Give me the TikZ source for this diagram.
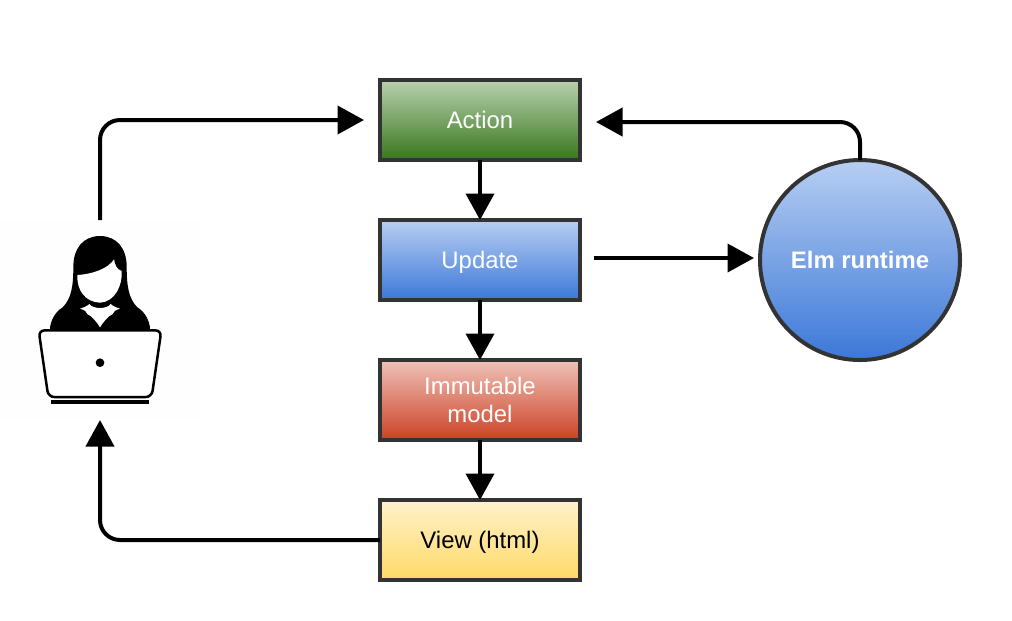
\documentclass[tikz,border=0pt]{standalone}
\usepackage{fontspec}
\setmainfont{Liberation Sans}
\usetikzlibrary{arrows.meta,positioning,calc}
\definecolor{edgegray}{HTML}{333333}
\definecolor{greentop}{HTML}{B9D1AE}
\definecolor{greenbot}{HTML}{38761D}
\definecolor{bluetop}{HTML}{B7CEF2}
\definecolor{bluebot}{HTML}{3C78D8}
\definecolor{redtop}{HTML}{EFC2B9}
\definecolor{redbot}{HTML}{CC4125}
\definecolor{yellowtop}{HTML}{FFF2CC}
\definecolor{yellowbot}{HTML}{FFD966}
\tikzset{
  flowarr/.style={-{Triangle[length=0.53cm,width=0.56cm]}, line width=0.08cm, draw=black, rounded corners=0.4cm},
  flowbox/.style={draw=edgegray, line width=0.08cm, outer sep=0pt, minimum width=4cm, minimum height=1.6cm, align=center, text=white, text depth=0pt},
}

\begin{document}
\begin{tikzpicture}[
  font=\fontsize{13.6}{15.9}\selectfont,
  node distance=1.2cm,
]
  \useasboundingbox (0,0) rectangle (20.24,-12.4);

  \node[flowbox, top color=greentop, bottom color=greenbot] (action) at (9.6,-2.4) {Action};
  \node[flowbox, top color=bluetop, bottom color=bluebot, below=of action] (update) {Update};
  \node[flowbox, top color=redtop, bottom color=redbot, below=of update] (model) {Immutable\\model};
  \node[flowbox, top color=yellowtop, bottom color=yellowbot, text=black, below=of model] (view) {View (html)};
  \node[circle, draw=edgegray, line width=0.08cm, outer sep=0pt, minimum size=4cm, top color=bluetop, bottom color=bluebot, text=white, font=\fontsize{13.6}{15.9}\selectfont\bfseries, right=3.6cm of update] (runtime) {Elm runtime};
  \node[minimum size=4cm, outer sep=0pt, inner sep=0pt, fill=black!0.4] (user) at (2,-6.4) {};

  % person at the laptop
  \begin{scope}[shift={($(user.center)+(-2,2.2)$)}, x=0.00667cm, y=-0.00667cm]
    \fill[black] (300,78) .. controls (250,78) and (220,115) .. (220,170)
      .. controls (220,225) and (215,265) .. (188,292)
      .. controls (165,305) and (150,335) .. (150,358) -- (450,358)
      .. controls (450,335) and (435,305) .. (412,292)
      .. controls (385,265) and (380,225) .. (380,170)
      .. controls (380,115) and (350,78) .. (300,78) -- cycle;
    \fill[white] (232,195) .. controls (280,192) and (325,175) .. (342,148)
      .. controls (345,165) and (350,178) .. (365,183)
      .. controls (368,225) and (345,276) .. (300,278)
      .. controls (255,276) and (230,240) .. (232,195) -- cycle;
    \fill[white] (240,296) .. controls (252,292) and (262,288) .. (268,282)
      .. controls (278,298) and (322,298) .. (332,282)
      .. controls (338,288) and (348,292) .. (360,296)
      .. controls (345,300) and (340,305) .. (338,312)
      .. controls (325,318) and (310,335) .. (300,352)
      .. controls (290,335) and (275,318) .. (262,312)
      .. controls (260,305) and (255,300) .. (240,296) -- cycle;
    \draw[black, line width=0.05cm, fill=white, rounded corners=0.12cm]
      (116,361) -- (484,361) -- (455,561) -- (145,561) -- cycle;
    \fill[black] (300,458) circle (13);
    \fill[black] (152,570) rectangle (448,582);
  \end{scope}

  \coordinate (actionin) at ($(action.east)+(0.32,-0.04)$);
  \coordinate (updateout) at ($(update.east)+(0.28,0.04)$);
  \coordinate (runtimein) at ($(runtime.west)+(-0.12,0.04)$);

  \draw[flowarr] (action) -- (update);
  \draw[flowarr] (update) -- (model);
  \draw[flowarr] (model) -- (view);
  \draw[flowarr, shorten >=0.32cm] (user.north) |- (action.west);
  \draw[flowarr] (runtime.north) |- (actionin);
  \draw[flowarr] (updateout) -- (runtimein);
  \draw[flowarr] (view.west) -| (user.south);
\end{tikzpicture}
\end{document}
